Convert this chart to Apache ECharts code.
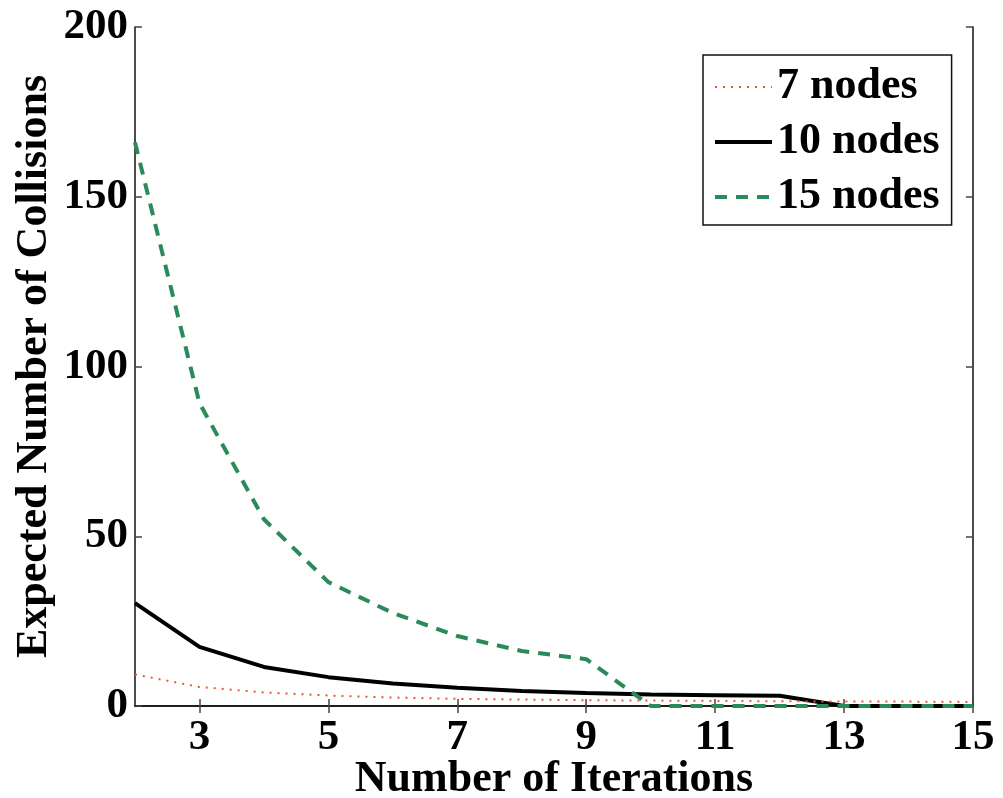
<!DOCTYPE html>
<html>
<head>
<meta charset="utf-8">
<script src="https://cdn.jsdelivr.net/npm/echarts@6/dist/echarts.min.js"></script>
<style>
  html, body { margin: 0; padding: 0; background: #fff; }
  #chart { width: 1003px; height: 798px; }
</style>
</head>
<body>
<div id="chart"></div>
<script>
// Iteration counts on the x axis
const iterations = [2, 3, 4, 5, 6, 7, 8, 9, 10, 11, 12, 13, 14, 15];
// Expected number of collisions per network size
const nodes7  = [9.3, 5.6, 4.0, 3.1, 2.5, 2.1, 1.9, 1.7, 1.6, 1.5, 1.4, 1.3, 1.3, 1.2];
const nodes10 = [30.3, 17.4, 11.5, 8.5, 6.6, 5.4, 4.4, 3.8, 3.4, 3.2, 3.0, 0, 0, 0];
const nodes15 = [166, 89.2, 55, 36.5, 27.4, 20.6, 16.2, 13.8, 0, 0, 0, 0, 0, 0];
// Tick positions
const xTicks = [3, 5, 7, 9, 11, 13, 15];
const yTicks = [0, 50, 100, 150, 200];

const FONT = '"Liberation Serif", "Times New Roman", serif';
const pairs = arr => iterations.map((x, i) => [x, arr[i]]);

const RED = '#ee5533', GREEN = '#2a8a5a';
const styles = {
  '7 nodes':  { color: RED, width: 2, type: [2, 6] },
  '10 nodes': { color: '#000', width: 4, type: 'solid' },
  '15 nodes': { color: GREEN, width: 4, type: [12, 9] }
};

const axisLine = { show: true, lineStyle: { color: '#111', width: 1.5 } };
const axisTick = (vals) => ({ show: true, inside: true, length: 7, customValues: vals,
  lineStyle: { color: '#444', width: 1.5 } });

const chart = echarts.init(document.getElementById('chart'), null, { renderer: 'canvas' });
chart.setOption({
  animation: false,
  backgroundColor: '#fff',
  grid: { left: 135, right: 30, top: 27, bottom: 92, containLabel: false, outerBoundsMode: 'none' },
  legend: {
    orient: 'vertical',
    left: 703, top: 55,
    width: 246,
    padding: [10, 12, 6, 10],
    borderColor: '#111', borderWidth: 1.5,
    backgroundColor: '#fff',
    itemWidth: 57, itemHeight: 14, itemGap: 11,
    itemStyle: { opacity: 0 },
    textStyle: { fontFamily: FONT, fontWeight: 'bold', fontSize: 44, color: '#000', lineHeight: 44 },
    data: Object.keys(styles).map(name => ({ name, lineStyle: Object.assign({}, styles[name]) }))
  },
  xAxis: [{
    type: 'value', min: 2, max: 15, interval: 1,
    name: 'Number of Iterations', nameLocation: 'middle', nameGap: 52, nameMoveOverlap: false,
    nameTextStyle: { fontFamily: FONT, fontWeight: 'bold', fontSize: 44, color: '#000' },
    axisLine, axisTick: axisTick(xTicks), splitLine: { show: false },
    axisLabel: { customValues: xTicks, margin: 10, fontFamily: FONT, fontWeight: 'bold', fontSize: 43, color: '#000' }
  }, {
    type: 'value', position: 'top', min: 2, max: 15, interval: 1,
    axisLine, axisTick: axisTick(xTicks), axisLabel: { show: false }, splitLine: { show: false }
  }],
  yAxis: [{
    type: 'value', min: 0, max: 200, interval: 50,
    name: 'Expected Number of Collisions', nameLocation: 'middle', nameGap: 78, nameRotate: 90, nameMoveOverlap: false,
    nameTextStyle: { fontFamily: FONT, fontWeight: 'bold', fontSize: 44, color: '#000' },
    axisLine, axisTick: axisTick(yTicks), splitLine: { show: false },
    axisLabel: { customValues: yTicks, margin: 7, fontFamily: FONT, fontWeight: 'bold', fontSize: 43, color: '#000' }
  }, {
    type: 'value', position: 'right', min: 0, max: 200, interval: 50,
    axisLine, axisTick: axisTick(yTicks), axisLabel: { show: false }, splitLine: { show: false }
  }],
  series: [{
    name: '7 nodes', type: 'line', data: pairs(nodes7), symbol: 'none', z: 3,
    lineStyle: styles['7 nodes'], itemStyle: { color: RED }
  }, {
    name: '10 nodes', type: 'line', data: pairs(nodes10), symbol: 'none', z: 2,
    lineStyle: styles['10 nodes'], itemStyle: { color: '#000' }
  }, {
    name: '15 nodes', type: 'line', data: pairs(nodes15), symbol: 'none', z: 4,
    lineStyle: styles['15 nodes'], itemStyle: { color: GREEN }
  }]
});
</script>
</body>
</html>
